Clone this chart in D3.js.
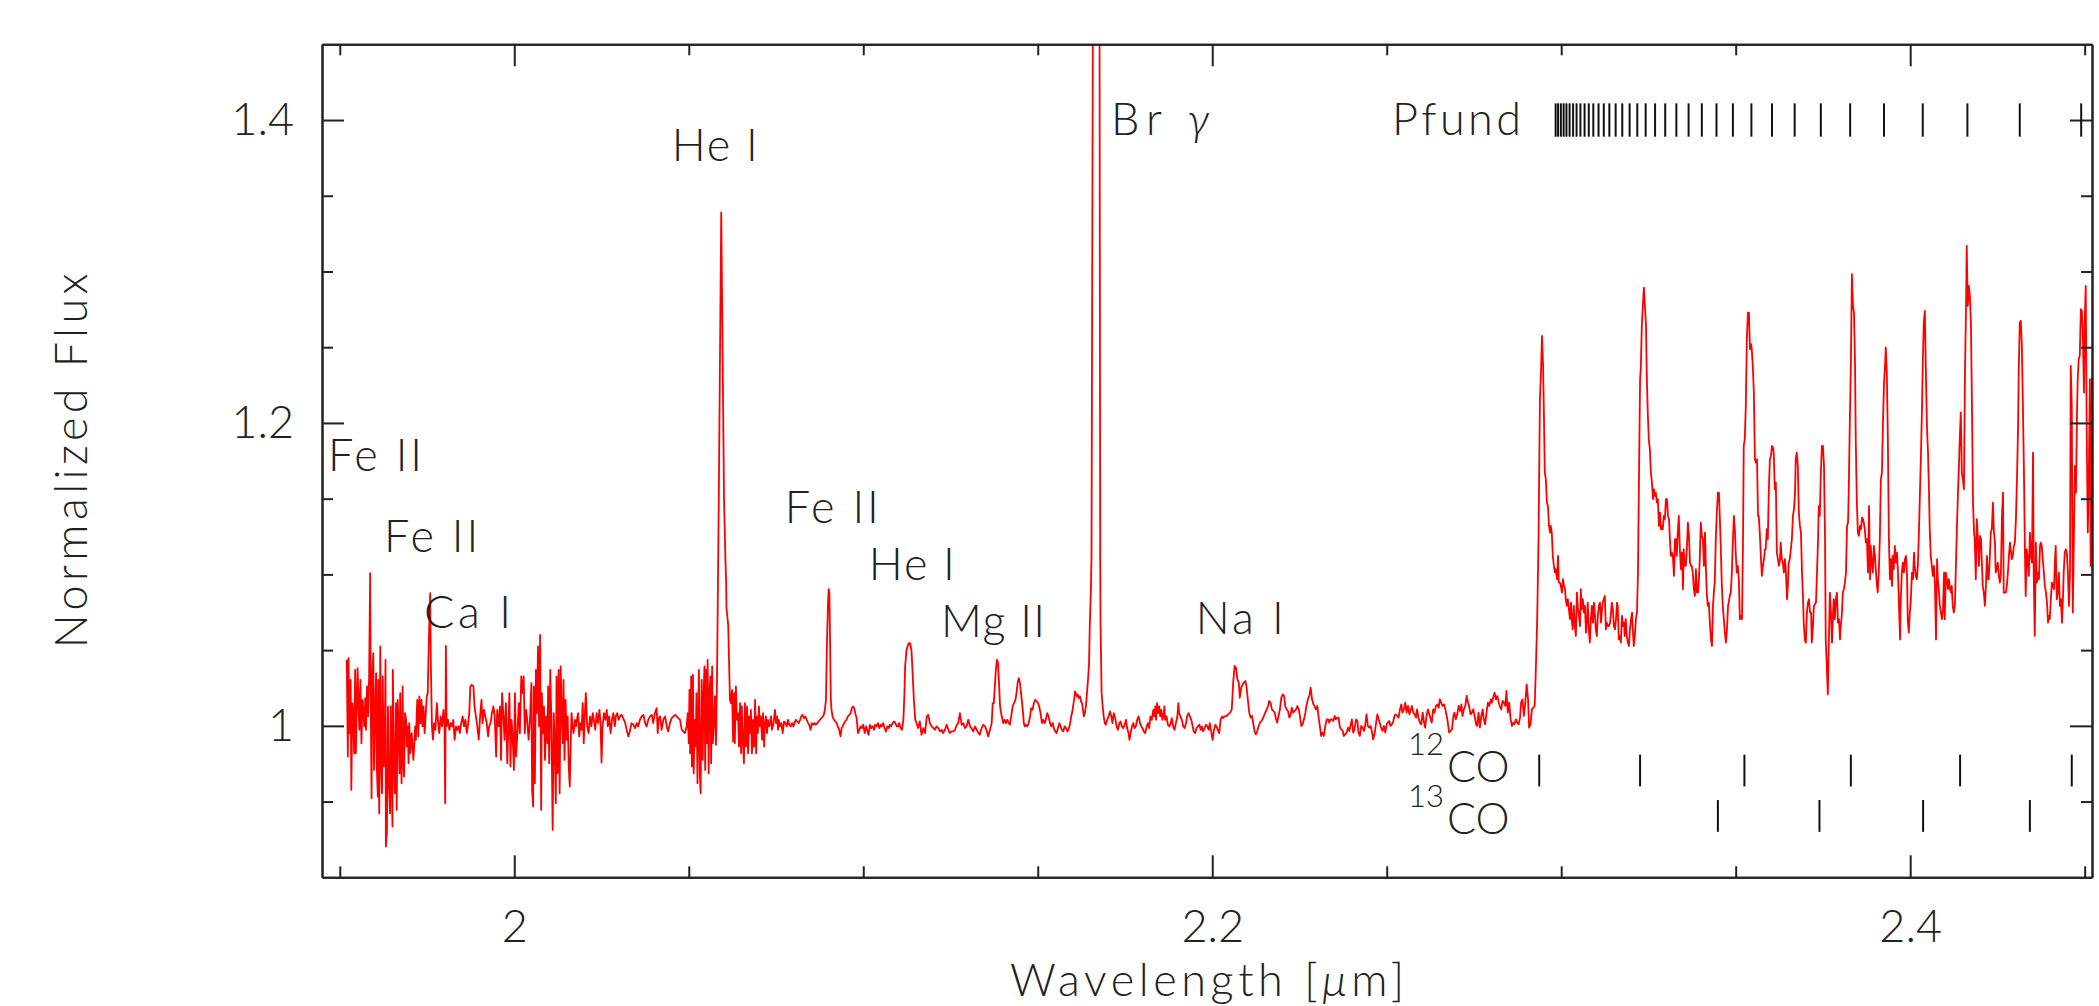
<!DOCTYPE html>
<html>
<head>
<meta charset="utf-8">
<script src="https://cdn.jsdelivr.net/npm/d3@7"></script>
<style>
  html, body { margin: 0; padding: 0; background: #fff; }
  svg { display: block; }
  text { font-family: Lato, Roboto, "Open Sans", sans-serif; font-weight: 300; fill: #222; }
</style>
</head>
<body>
<svg id="chart" width="2099" height="1006"></svg>
<script>
// ---- Spectrum: [wavelength (µm), normalized flux] ----
const specBlue = [[1.9520,1.0436],[1.9523,0.9797],[1.9525,1.0447],[1.9528,0.9952],[1.9531,1.0304],[1.9533,0.9577],[1.9536,1.0150],[1.9539,1.0062],[1.9541,0.9819],[1.9544,1.0370],[1.9546,0.9819],[1.9548,1.0062],[1.9551,1.0381],[1.9554,1.0106],[1.9556,0.9974],[1.9559,1.0304],[1.9562,0.9886],[1.9565,1.0172],[1.9568,1.0084],[1.9570,0.9996],[1.9573,1.0183],[1.9575,0.9974],[1.9578,1.0260],[1.9581,1.0062],[1.9584,1.0326],[1.9587,1.1008],[1.9589,1.0084],[1.9591,0.9522],[1.9593,1.0326],[1.9596,1.0480],[1.9598,0.9709],[1.9601,1.0084],[1.9604,1.0348],[1.9606,0.9731],[1.9609,0.9533],[1.9610,1.0304],[1.9613,0.9423],[1.9616,1.0524],[1.9618,0.9775],[1.9621,0.9555],[1.9623,1.0326],[1.9626,0.9731],[1.9629,0.9908],[1.9631,1.0436],[1.9632,0.9203],[1.9635,0.9291],[1.9638,1.0128],[1.9641,0.9599],[1.9644,0.9423],[1.9646,1.0128],[1.9648,0.9731],[1.9651,0.9335],[1.9652,1.0370],[1.9655,0.9819],[1.9658,0.9555],[1.9661,1.0150],[1.9663,0.9445],[1.9666,1.0172],[1.9669,0.9930],[1.9671,0.9687],[1.9673,1.0216],[1.9675,0.9863],[1.9677,0.9621],[1.9680,1.0260],[1.9682,0.9775],[1.9684,0.9665],[1.9687,1.0084],[1.9690,1.0040],[1.9692,0.9863],[1.9695,0.9996],[1.9697,0.9753],[1.9699,1.0018],[1.9702,0.9819],[1.9706,0.9952],[1.9711,0.9775],[1.9716,0.9996],[1.9718,0.9908],[1.9722,1.0172],[1.9725,0.9930],[1.9728,1.0194],[1.9731,1.0018],[1.9734,1.0172],[1.9737,0.9996],[1.9740,1.0128],[1.9743,0.9952],[1.9746,1.0062],[1.9749,1.0194],[1.9752,1.0216],[1.9755,1.0546],[1.9759,1.0876],[1.9761,1.0392],[1.9764,0.9996],[1.9767,0.9908],[1.9770,1.0018],[1.9774,0.9974],[1.9778,1.0150],[1.9781,1.0040],[1.9785,0.9952],[1.9789,1.0062],[1.9793,0.9996],[1.9797,1.0106],[1.9800,0.9996],[1.9802,0.9489],[1.9804,1.0528],[1.9806,0.9996],[1.9810,1.0040],[1.9814,0.9974],[1.9818,1.0018],[1.9822,0.9996],[1.9825,1.0040],[1.9829,0.9908],[1.9833,0.9996],[1.9837,0.9974],[1.9841,0.9996],[1.9844,0.9952],[1.9848,1.0018],[1.9852,1.0062],[1.9856,0.9996],[1.9860,1.0040],[1.9864,0.9952],[1.9867,0.9996],[1.9871,1.0084],[1.9874,1.0260],[1.9878,1.0271],[1.9883,1.0260],[1.9886,1.0128],[1.9890,1.0062],[1.9894,0.9996],[1.9898,0.9908],[1.9902,1.0062],[1.9906,1.0172],[1.9909,1.0018],[1.9913,1.0106],[1.9917,1.0062],[1.9921,1.0018],[1.9925,0.9930],[1.9928,0.9996],[1.9932,1.0018],[1.9936,1.0084],[1.9940,1.0128],[1.9944,1.0062],[1.9948,0.9797],[1.9951,1.0106],[1.9955,0.9996],[1.9959,1.0128],[1.9962,0.9775],[1.9965,1.0216],[1.9969,1.0062],[1.9972,0.9908],[1.9976,1.0150],[1.9980,0.9753],[1.9983,0.9996],[1.9986,1.0216],[1.9989,0.9731],[1.9992,1.0040],[1.9995,0.9952],[1.9999,0.9709],[2.0002,1.0216],[2.0005,0.9797],[2.0009,0.9952],[2.0013,1.0150],[2.0016,0.9952],[2.0020,1.0326],[2.0024,1.0216],[2.0027,1.0326],[2.0030,0.9952],[2.0034,1.0106],[2.0037,1.0040],[2.0041,0.9908],[2.0045,1.0040],[2.0049,1.0282],[2.0051,0.9577],[2.0054,0.9467],[2.0056,1.0260],[2.0059,0.9621],[2.0062,1.0370],[2.0065,1.0084],[2.0068,1.0524],[2.0071,0.9996],[2.0074,1.0601],[2.0077,0.9445],[2.0079,1.0216],[2.0082,0.9952],[2.0085,1.0128],[2.0088,0.9775],[2.0091,1.0062],[2.0095,0.9886],[2.0097,1.0260],[2.0100,0.9753],[2.0103,1.0370],[2.0106,1.0062],[2.0110,0.9313],[2.0113,1.0084],[2.0116,0.9863],[2.0119,0.9489],[2.0121,1.0326],[2.0124,0.9687],[2.0127,1.0370],[2.0130,0.9555],[2.0133,1.0392],[2.0136,1.0062],[2.0139,0.9886],[2.0141,1.0304],[2.0144,0.9775],[2.0147,1.0172],[2.0150,0.9908],[2.0153,1.0062],[2.0156,0.9731],[2.0159,0.9599],[2.0162,0.9908],[2.0164,1.0084],[2.0167,0.9996],[2.0170,0.9952],[2.0174,1.0040],[2.0177,0.9996],[2.0181,1.0062],[2.0183,1.0084],[2.0186,0.9930],[2.0190,1.0018],[2.0193,0.9974],[2.0196,1.0150],[2.0199,0.9886],[2.0202,1.0062],[2.0205,1.0216],[2.0209,0.9996],[2.0213,0.9952],[2.0217,1.0062],[2.0221,0.9996],[2.0225,1.0084],[2.0228,1.0040],[2.0232,0.9974],[2.0236,1.0084],[2.0240,1.0018],[2.0244,1.0106],[2.0247,1.0018],[2.0250,0.9758],[2.0253,0.9996],[2.0257,1.0084],[2.0261,1.0040],[2.0265,1.0106],[2.0268,0.9996],[2.0272,1.0062],[2.0276,0.9952],[2.0280,1.0040],[2.0284,1.0084],[2.0288,0.9996],[2.0291,1.0062],[2.0295,1.0084],[2.0299,1.0040],[2.0303,1.0062],[2.0307,1.0073],[2.0310,1.0062],[2.0314,1.0040],[2.0318,1.0018],[2.0322,0.9974],[2.0327,0.9930],[2.0331,0.9963]];

const specHeI = [[2.0336,1.0018],[2.0341,1.0007],[2.0346,0.9985],[2.0351,1.0018],[2.0355,0.9996],[2.0360,1.0040],[2.0365,1.0062],[2.0370,1.0073],[2.0375,1.0018],[2.0379,0.9996],[2.0384,1.0040],[2.0389,1.0062],[2.0394,1.0073],[2.0398,1.0018],[2.0403,1.0084],[2.0408,1.0117],[2.0411,0.9952],[2.0414,1.0051],[2.0418,1.0062],[2.0422,0.9974],[2.0427,1.0040],[2.0432,1.0062],[2.0437,0.9996],[2.0441,0.9963],[2.0446,1.0018],[2.0451,1.0051],[2.0456,1.0062],[2.0461,1.0073],[2.0465,1.0062],[2.0470,1.0051],[2.0475,1.0040],[2.0480,0.9974],[2.0484,0.9963],[2.0489,0.9952],[2.0494,0.9996],[2.0497,1.0084],[2.0500,0.9886],[2.0502,1.0238],[2.0504,0.9819],[2.0507,1.0326],[2.0509,0.9731],[2.0512,1.0337],[2.0514,0.9687],[2.0517,1.0040],[2.0520,0.9863],[2.0522,1.0216],[2.0525,0.9621],[2.0527,0.9996],[2.0529,1.0370],[2.0532,0.9665],[2.0534,0.9555],[2.0537,1.0304],[2.0540,0.9775],[2.0542,1.0172],[2.0545,1.0392],[2.0547,0.9709],[2.0549,1.0370],[2.0552,0.9886],[2.0554,1.0436],[2.0557,0.9687],[2.0559,1.0216],[2.0562,1.0326],[2.0564,0.9753],[2.0567,1.0392],[2.0569,0.9886],[2.0572,1.0018],[2.0575,1.0194],[2.0578,0.9875],[2.0581,1.0326],[2.0583,1.0800],[2.0586,1.1500],[2.0593,1.3390],[2.0601,1.1500],[2.0605,1.1100],[2.0607,1.0950],[2.0608,1.0777],[2.0613,1.0667],[2.0618,1.0172],[2.0621,1.0150],[2.0624,1.0238],[2.0627,0.9897],[2.0630,1.0216],[2.0632,0.9886],[2.0635,1.0260],[2.0638,1.0040],[2.0641,1.0084],[2.0644,0.9863],[2.0647,1.0150],[2.0650,0.9819],[2.0652,1.0128],[2.0655,0.9908],[2.0658,0.9753],[2.0661,1.0150],[2.0664,0.9863],[2.0667,1.0128],[2.0670,0.9819],[2.0673,1.0062],[2.0675,0.9952],[2.0678,1.0106],[2.0681,0.9819],[2.0684,1.0040],[2.0687,0.9863],[2.0690,1.0172],[2.0693,0.9819],[2.0695,1.0062],[2.0698,0.9952],[2.0701,1.0128],[2.0704,0.9996],[2.0707,1.0062],[2.0710,0.9908],[2.0713,1.0084],[2.0716,0.9863],[2.0718,0.9996],[2.0721,1.0062],[2.0724,0.9952],[2.0727,1.0040],[2.0730,0.9996],[2.0733,1.0018],[2.0736,1.0062],[2.0738,0.9974],[2.0741,0.9996],[2.0744,1.0040],[2.0747,1.0106],[2.0750,1.0018],[2.0753,1.0062],[2.0756,0.9974],[2.0758,1.0040],[2.0761,0.9996],[2.0765,1.0018],[2.0769,0.9952],[2.0773,1.0029],[2.0777,1.0018],[2.0781,0.9996],[2.0784,1.0040],[2.0788,1.0007],[2.0792,0.9996],[2.0796,1.0018],[2.0800,0.9996],[2.0803,1.0018],[2.0807,1.0040],[2.0811,1.0029],[2.0815,1.0018],[2.0819,1.0040],[2.0822,1.0062],[2.0826,1.0073],[2.0830,1.0051],[2.0834,1.0062],[2.0838,1.0040],[2.0842,1.0018],[2.0845,1.0007],[2.0849,0.9974],[2.0853,1.0018],[2.0857,1.0007],[2.0861,1.0018],[2.0864,1.0007],[2.0868,1.0018],[2.0872,1.0029],[2.0876,1.0040],[2.0880,1.0051],[2.0884,1.0062],[2.0887,1.0073],[2.0890,1.0106],[2.0893,1.0172],[2.0896,1.0546],[2.0899,1.0810],[2.0901,1.0903],[2.0903,1.0876],[2.0905,1.0546],[2.0907,1.0172],[2.0909,1.0106],[2.0912,1.0062],[2.0916,1.0040],[2.0920,1.0029],[2.0924,1.0018],[2.0927,0.9996],[2.0931,0.9974],[2.0935,0.9930],[2.0938,0.9985],[2.0941,0.9996],[2.0945,1.0018],[2.0948,1.0029],[2.0952,1.0040],[2.0956,1.0062],[2.0960,1.0073],[2.0964,1.0084],[2.0967,1.0117],[2.0971,1.0128],[2.0974,1.0117],[2.0977,1.0084],[2.0981,1.0051],[2.0985,0.9952],[2.0989,0.9974],[2.0992,0.9996],[2.0996,0.9985],[2.1000,1.0007],[2.1004,0.9952],[2.1008,0.9996],[2.1011,0.9974],[2.1015,0.9941],[2.1019,1.0007],[2.1023,0.9985],[2.1027,0.9996],[2.1031,0.9974],[2.1034,1.0007],[2.1038,0.9996],[2.1042,1.0018],[2.1046,0.9985],[2.1050,1.0007],[2.1053,0.9996],[2.1057,1.0018],[2.1061,0.9985],[2.1065,0.9963],[2.1069,0.9996],[2.1073,0.9985],[2.1076,1.0007],[2.1080,0.9996],[2.1084,1.0018],[2.1088,1.0029],[2.1092,1.0018],[2.1096,0.9996],[2.1100,0.9996],[2.1103,1.0018],[2.1107,0.9985],[2.1111,0.9974],[2.1115,1.0040],[2.1118,1.0216],[2.1120,1.0392],[2.1124,1.0502],[2.1130,1.0546],[2.1134,1.0546],[2.1138,1.0502],[2.1141,1.0370],[2.1145,1.0172],[2.1149,1.0040],[2.1153,1.0018],[2.1157,0.9985],[2.1162,1.0029]];

const specBrGamma = [[2.1167,0.9941],[2.1172,0.9985],[2.1177,0.9952],[2.1182,1.0062],[2.1186,1.0073],[2.1191,1.0018],[2.1196,0.9996],[2.1201,0.9985],[2.1205,0.9974],[2.1210,0.9996],[2.1215,0.9985],[2.1220,0.9963],[2.1225,0.9974],[2.1229,0.9952],[2.1234,0.9974],[2.1239,1.0007],[2.1244,0.9974],[2.1248,0.9952],[2.1253,0.9963],[2.1258,0.9963],[2.1263,0.9974],[2.1268,1.0007],[2.1272,1.0018],[2.1277,1.0084],[2.1282,1.0007],[2.1287,1.0018],[2.1291,0.9985],[2.1296,0.9996],[2.1301,1.0040],[2.1306,0.9996],[2.1310,0.9985],[2.1315,0.9963],[2.1320,0.9996],[2.1325,0.9974],[2.1330,0.9952],[2.1334,0.9941],[2.1339,0.9985],[2.1344,1.0007],[2.1349,0.9996],[2.1353,0.9974],[2.1358,0.9930],[2.1363,0.9974],[2.1368,1.0018],[2.1371,1.0150],[2.1374,1.0150],[2.1377,1.0260],[2.1380,1.0370],[2.1383,1.0436],[2.1386,1.0414],[2.1389,1.0282],[2.1392,1.0128],[2.1395,1.0084],[2.1397,1.0062],[2.1401,1.0018],[2.1405,1.0040],[2.1409,1.0018],[2.1413,1.0040],[2.1417,1.0018],[2.1420,1.0007],[2.1424,1.0062],[2.1428,1.0128],[2.1432,1.0150],[2.1436,1.0172],[2.1439,1.0216],[2.1443,1.0293],[2.1446,1.0315],[2.1449,1.0282],[2.1452,1.0216],[2.1455,1.0150],[2.1458,1.0084],[2.1460,1.0018],[2.1463,0.9996],[2.1466,1.0007],[2.1470,0.9996],[2.1474,1.0018],[2.1478,1.0062],[2.1481,1.0117],[2.1485,1.0106],[2.1489,1.0150],[2.1493,1.0172],[2.1497,1.0161],[2.1501,1.0150],[2.1504,1.0128],[2.1508,1.0084],[2.1512,1.0018],[2.1516,1.0040],[2.1520,1.0018],[2.1523,1.0040],[2.1527,1.0084],[2.1531,1.0062],[2.1535,1.0018],[2.1539,0.9996],[2.1543,1.0018],[2.1546,0.9985],[2.1550,0.9963],[2.1554,0.9952],[2.1558,0.9985],[2.1562,1.0018],[2.1565,0.9996],[2.1569,0.9974],[2.1573,0.9963],[2.1577,0.9996],[2.1581,0.9985],[2.1585,0.9963],[2.1588,0.9974],[2.1592,1.0007],[2.1596,1.0062],[2.1600,1.0106],[2.1604,1.0172],[2.1607,1.0227],[2.1609,1.0216],[2.1612,1.0194],[2.1615,1.0205],[2.1618,1.0183],[2.1621,1.0194],[2.1624,1.0161],[2.1627,1.0150],[2.1629,1.0117],[2.1632,1.0062],[2.1635,1.0084],[2.1638,1.0128],[2.1641,1.0216],[2.1644,1.0304],[2.1647,1.0414],[2.1649,1.0656],[2.1652,1.0876],[2.1654,1.1100],[2.1658,1.4700],[2.1668,1.7500],[2.1677,1.4700],[2.1679,1.1100],[2.1680,1.0656],[2.1683,1.0216],[2.1686,1.0128],[2.1689,1.0062],[2.1692,1.0018],[2.1695,1.0007],[2.1699,1.0040],[2.1703,1.0062],[2.1707,1.0095],[2.1711,1.0062],[2.1714,1.0018],[2.1718,1.0084],[2.1722,1.0051],[2.1726,0.9996],[2.1730,0.9974],[2.1734,1.0018],[2.1737,1.0029],[2.1741,0.9996],[2.1745,0.9985],[2.1749,1.0007],[2.1753,1.0040],[2.1756,0.9985],[2.1760,0.9952],[2.1763,0.9908],[2.1766,0.9952],[2.1770,0.9996],[2.1774,1.0018],[2.1777,0.9985],[2.1781,0.9996],[2.1785,1.0040],[2.1789,1.0062],[2.1793,1.0018],[2.1797,0.9996],[2.1800,0.9985],[2.1804,0.9963],[2.1808,0.9952],[2.1812,0.9996],[2.1816,1.0018],[2.1819,0.9985],[2.1823,1.0062],[2.1827,1.0040],[2.1831,1.0106],[2.1834,1.0062],[2.1837,1.0128],[2.1839,1.0040],[2.1842,1.0150],[2.1845,1.0084],[2.1848,1.0128],[2.1851,1.0062],[2.1854,1.0106],[2.1857,1.0040],[2.1860,1.0062],[2.1863,1.0128],[2.1865,1.0040],[2.1869,1.0062],[2.1873,1.0007],[2.1877,0.9996],[2.1881,1.0018],[2.1884,1.0051],[2.1888,0.9996],[2.1892,0.9974],[2.1896,1.0018],[2.1900,1.0062],[2.1903,1.0150],[2.1905,1.0084],[2.1909,1.0062],[2.1913,1.0040],[2.1917,0.9996],[2.1921,0.9985],[2.1925,1.0018],[2.1928,1.0062],[2.1932,1.0084],[2.1936,1.0062],[2.1940,1.0040],[2.1944,0.9996],[2.1947,0.9963],[2.1951,0.9952],[2.1955,0.9985],[2.1959,0.9996],[2.1963,1.0007],[2.1967,0.9974],[2.1970,0.9996],[2.1974,0.9963],[2.1978,0.9985],[2.1982,1.0007],[2.1986,0.9996],[2.1990,0.9974],[2.1993,1.0018],[2.1997,0.9963],[2.2001,0.9908],[2.2005,0.9974],[2.2009,1.0007],[2.2012,0.9996],[2.2016,0.9974],[2.2020,0.9952],[2.2024,1.0040],[2.2028,1.0062],[2.2031,1.0051],[2.2035,1.0062]];

const specNaI = [[2.2041,1.0065],[2.2046,1.0076],[2.2051,1.0087],[2.2056,1.0109],[2.2060,1.0285],[2.2064,1.0395],[2.2068,1.0384],[2.2072,1.0307],[2.2076,1.0285],[2.2079,1.0186],[2.2083,1.0252],[2.2087,1.0274],[2.2091,1.0285],[2.2095,1.0296],[2.2098,1.0263],[2.2102,1.0175],[2.2106,1.0087],[2.2110,1.0054],[2.2114,1.0065],[2.2118,1.0010],[2.2121,0.9966],[2.2125,0.9944],[2.2129,0.9966],[2.2133,0.9999],[2.2137,1.0021],[2.2141,1.0032],[2.2144,1.0043],[2.2148,1.0065],[2.2152,1.0087],[2.2156,1.0109],[2.2160,1.0131],[2.2163,1.0164],[2.2167,1.0153],[2.2171,1.0109],[2.2175,1.0098],[2.2179,1.0087],[2.2183,1.0043],[2.2186,1.0021],[2.2190,1.0065],[2.2194,1.0109],[2.2198,1.0186],[2.2202,1.0208],[2.2206,1.0197],[2.2209,1.0131],[2.2213,1.0109],[2.2217,1.0098],[2.2221,1.0054],[2.2225,1.0076],[2.2228,1.0120],[2.2232,1.0087],[2.2236,1.0098],[2.2240,1.0109],[2.2244,1.0131],[2.2248,1.0109],[2.2251,1.0065],[2.2255,0.9999],[2.2259,1.0010],[2.2263,1.0043],[2.2267,1.0087],[2.2270,1.0131],[2.2274,1.0175],[2.2278,1.0197],[2.2282,1.0252],[2.2286,1.0175],[2.2290,1.0142],[2.2293,1.0131],[2.2297,1.0109],[2.2301,1.0131],[2.2305,1.0054],[2.2309,0.9988],[2.2312,0.9933],[2.2316,0.9955],[2.2320,0.9933],[2.2324,0.9999],[2.2328,1.0043],[2.2332,1.0043],[2.2335,1.0021],[2.2339,1.0043],[2.2343,1.0043],[2.2347,1.0032],[2.2351,1.0065],[2.2354,1.0043],[2.2358,1.0054],[2.2362,1.0054],[2.2366,0.9988],[2.2370,0.9977],[2.2374,0.9966],[2.2377,0.9933],[2.2381,0.9944],[2.2385,0.9955],[2.2389,0.9988],[2.2393,0.9966],[2.2396,0.9999],[2.2400,1.0043],[2.2404,0.9955],[2.2408,0.9977],[2.2412,1.0043],[2.2416,1.0032],[2.2419,0.9955],[2.2423,0.9933],[2.2427,0.9999],[2.2431,0.9988],[2.2435,0.9966],[2.2438,0.9999],[2.2442,1.0076],[2.2446,0.9999],[2.2450,0.9988],[2.2454,0.9999],[2.2458,0.9955],[2.2461,0.9911],[2.2465,0.9944],[2.2469,1.0010],[2.2473,1.0076],[2.2477,1.0043],[2.2480,1.0021],[2.2484,0.9988],[2.2488,0.9966],[2.2492,0.9999],[2.2496,0.9955],[2.2500,1.0010],[2.2503,1.0021],[2.2507,1.0032],[2.2511,0.9999],[2.2515,1.0010],[2.2519,1.0032],[2.2522,1.0065],[2.2526,1.0076],[2.2530,1.0065],[2.2534,1.0054],[2.2538,1.0109],[2.2542,1.0142],[2.2545,1.0087],[2.2549,1.0109],[2.2553,1.0153],[2.2557,1.0087],[2.2561,1.0131],[2.2565,1.0076],[2.2568,1.0098],[2.2572,1.0131],[2.2576,1.0087],[2.2580,1.0076],[2.2584,1.0054],[2.2587,1.0109],[2.2591,1.0054],[2.2595,1.0021],[2.2599,1.0010],[2.2603,1.0087],[2.2607,1.0021],[2.2610,0.9988],[2.2614,1.0065],[2.2618,1.0109],[2.2622,1.0076],[2.2626,1.0043],[2.2629,1.0021],[2.2633,1.0109],[2.2637,1.0087],[2.2641,1.0131],[2.2645,1.0142],[2.2649,1.0120],[2.2652,1.0175],[2.2656,1.0153],[2.2660,1.0131],[2.2664,1.0142],[2.2668,1.0109],[2.2672,1.0065],[2.2675,1.0021],[2.2679,0.9955],[2.2683,0.9966],[2.2687,0.9977],[2.2691,1.0065],[2.2694,1.0087],[2.2698,1.0043],[2.2702,1.0076],[2.2706,1.0131],[2.2710,1.0098],[2.2714,1.0142],[2.2717,1.0065],[2.2721,1.0109],[2.2725,1.0131],[2.2729,1.0197],[2.2733,1.0153],[2.2736,1.0131],[2.2740,1.0076],[2.2744,1.0087],[2.2748,1.0109],[2.2752,1.0065],[2.2756,1.0010],[2.2759,0.9999],[2.2763,1.0087],[2.2767,0.9988],[2.2771,1.0065],[2.2775,1.0109],[2.2778,1.0043],[2.2782,1.0010],[2.2786,1.0087],[2.2790,1.0153],[2.2794,1.0131],[2.2798,1.0175],[2.2801,1.0153],[2.2805,1.0186],[2.2809,1.0219],[2.2813,1.0175],[2.2817,1.0197],[2.2821,1.0153],[2.2824,1.0131],[2.2828,1.0109],[2.2832,1.0164],[2.2836,1.0153],[2.2840,1.0131],[2.2843,1.0230],[2.2847,1.0087],[2.2851,1.0153],[2.2855,1.0043],[2.2859,0.9999],[2.2863,1.0021],[2.2866,1.0010],[2.2870,1.0043],[2.2874,1.0021],[2.2878,1.0010],[2.2882,1.0054],[2.2885,1.0153],[2.2889,1.0175],[2.2893,1.0065],[2.2897,1.0153],[2.2901,1.0274],[2.2905,1.0175],[2.2908,0.9988],[2.2912,1.0010],[2.2916,1.0109],[2.2920,1.0120],[2.2924,1.0131]];

const specCO1 = [[2.2927,1.0351],[2.2931,1.0681],[2.2935,1.1232],[2.2939,1.2156],[2.2942,1.2333],[2.2945,1.2575],[2.2948,1.2377],[2.2950,1.2113],[2.2953,1.1672],[2.2956,1.1628],[2.2959,1.1474],[2.2962,1.1452],[2.2965,1.1320],[2.2968,1.1276],[2.2970,1.1320],[2.2973,1.1276],[2.2976,1.1122],[2.2979,1.1056],[2.2982,1.1012],[2.2985,1.1034],[2.2988,1.0968],[2.2991,1.1122],[2.2993,1.0946],[2.2996,1.0946],[2.2999,1.0924],[2.3002,1.0880],[2.3005,1.0968],[2.3008,1.0924],[2.3011,1.0902],[2.3013,1.0836],[2.3016,1.0792],[2.3019,1.0836],[2.3022,1.0770],[2.3025,1.0704],[2.3028,1.0814],[2.3031,1.0681],[2.3033,1.0637],[2.3036,1.0792],[2.3039,1.0659],[2.3042,1.0593],[2.3045,1.0880],[2.3048,1.0770],[2.3051,1.0726],[2.3054,1.0659],[2.3056,1.0902],[2.3059,1.0770],[2.3062,1.0836],[2.3065,1.0748],[2.3068,1.0792],[2.3071,1.0615],[2.3074,1.0704],[2.3076,1.0814],[2.3079,1.0637],[2.3082,1.0549],[2.3085,1.0704],[2.3088,1.0792],[2.3091,1.0681],[2.3094,1.0814],[2.3097,1.0726],[2.3099,1.0637],[2.3102,1.0593],[2.3105,1.0726],[2.3108,1.0792],[2.3111,1.0814],[2.3114,1.0681],[2.3117,1.0770],[2.3119,1.0814],[2.3122,1.0836],[2.3125,1.0858],[2.3128,1.0637],[2.3131,1.0681],[2.3134,1.0659],[2.3137,1.0659],[2.3140,1.0681],[2.3142,1.0726],[2.3145,1.0814],[2.3148,1.0770],[2.3151,1.0659],[2.3154,1.0637],[2.3157,1.0704],[2.3160,1.0814],[2.3162,1.0792],[2.3165,1.0571],[2.3168,1.0593],[2.3171,1.0549],[2.3174,1.0726],[2.3177,1.0659],[2.3180,1.0681],[2.3182,1.0593],[2.3185,1.0704],[2.3188,1.0593],[2.3191,1.0549],[2.3194,1.0527],[2.3197,1.0637],[2.3200,1.0704],[2.3203,1.0748],[2.3205,1.0637],[2.3208,1.0527],[2.3211,1.0593],[2.3214,1.0704],[2.3217,1.0748],[2.3220,1.1012],[2.3223,1.1672],[2.3226,1.2289],[2.3228,1.2355],[2.3231,1.2641],[2.3234,1.2773],[2.3237,1.2894],[2.3240,1.2773],[2.3243,1.2641],[2.3245,1.2333],[2.3248,1.2069],[2.3251,1.1892],[2.3254,1.1826],[2.3257,1.1672],[2.3260,1.1606],[2.3263,1.1496],[2.3266,1.1562],[2.3268,1.1518],[2.3271,1.1540],[2.3274,1.1474],[2.3277,1.1496],[2.3280,1.1320],[2.3283,1.1408],[2.3286,1.1298],[2.3289,1.1320],[2.3291,1.1298],[2.3294,1.1386],[2.3297,1.1364],[2.3300,1.1496],[2.3303,1.1496],[2.3306,1.1386],[2.3309,1.1364],[2.3311,1.1254],[2.3314,1.1122],[2.3317,1.1144],[2.3320,1.1122],[2.3323,1.0990],[2.3326,1.1232],[2.3329,1.1232],[2.3331,1.1122],[2.3334,1.1276],[2.3337,1.1386],[2.3340,1.1166],[2.3343,1.1034],[2.3346,1.1144],[2.3349,1.0902],[2.3351,1.1166],[2.3354,1.1056],[2.3357,1.1056],[2.3360,1.1166],[2.3363,1.1342],[2.3366,1.1254],[2.3369,1.1078],[2.3372,1.1056],[2.3374,1.1056],[2.3377,1.1012],[2.3380,1.0902],[2.3383,1.0858],[2.3386,1.1034],[2.3389,1.0880],[2.3392,1.0880],[2.3395,1.0990],[2.3397,1.1100],[2.3400,1.1342],[2.3403,1.1254],[2.3406,1.1232],[2.3409,1.1056],[2.3412,1.1276],[2.3415,1.1012],[2.3417,1.0880],[2.3420,1.0792],[2.3423,1.0814],[2.3426,1.0681],[2.3429,1.0571],[2.3432,1.0527],[2.3435,1.0792],[2.3438,1.0902],[2.3440,1.0946],[2.3443,1.1232],[2.3446,1.1408],[2.3449,1.1540],[2.3452,1.1540],[2.3455,1.1342],[2.3458,1.1122],[2.3460,1.0946],[2.3463,1.0792],[2.3466,1.0704],[2.3469,1.0615],[2.3472,1.0549],[2.3475,1.0637],[2.3478,1.0792],[2.3480,1.0814],[2.3483,1.0858],[2.3486,1.0880],[2.3489,1.1012],[2.3492,1.1232],[2.3495,1.1386],[2.3498,1.1276],[2.3500,1.1144],[2.3503,1.1012],[2.3506,1.1056],[2.3509,1.0968],[2.3512,1.0704],[2.3515,1.0726],[2.3518,1.0704],[2.3521,1.1232],[2.3523,1.1848],[2.3526,1.1892],[2.3529,1.2113],[2.3532,1.2553],[2.3535,1.2729],[2.3538,1.2729],[2.3541,1.2487],[2.3544,1.2520],[2.3546,1.2487],[2.3549,1.2377],[2.3552,1.2201],[2.3555,1.1760],[2.3558,1.1738],[2.3561,1.1760],[2.3564,1.1386],[2.3566,1.1386],[2.3569,1.1276],[2.3572,1.1122],[2.3575,1.0990],[2.3578,1.1056],[2.3581,1.1100],[2.3584,1.1166],[2.3586,1.1166],[2.3589,1.1298],[2.3592,1.1232],[2.3595,1.1562],[2.3598,1.1760],[2.3601,1.1782],[2.3604,1.1848],[2.3607,1.1837],[2.3609,1.1804],[2.3612,1.1562],[2.3615,1.1606],[2.3618,1.1144],[2.3621,1.1100],[2.3624,1.1056],[2.3627,1.1100],[2.3629,1.1210],[2.3632,1.1100],[2.3635,1.1078],[2.3638,1.1012],[2.3641,1.1100],[2.3644,1.1012],[2.3647,1.0836],[2.3650,1.0946],[2.3652,1.1078],[2.3655,1.1100],[2.3658,1.1166],[2.3661,1.1232],[2.3664,1.1386],[2.3667,1.1430],[2.3670,1.1540],[2.3672,1.1760],[2.3675,1.1804],[2.3678,1.1716],[2.3681,1.1408],[2.3684,1.1320]];

const specCO2 = [[2.3687,1.1276],[2.3690,1.1012],[2.3693,1.0836],[2.3695,1.0681],[2.3698,1.0571],[2.3701,1.0549],[2.3704,1.0748],[2.3707,1.0814],[2.3710,1.0836],[2.3713,1.0748],[2.3716,1.0748],[2.3718,1.0549],[2.3721,1.0637],[2.3724,1.0792],[2.3727,1.0803],[2.3730,1.0814],[2.3733,1.1012],[2.3736,1.1232],[2.3738,1.1452],[2.3741,1.1386],[2.3744,1.1672],[2.3747,1.1848],[2.3750,1.1848],[2.3753,1.1716],[2.3756,1.1232],[2.3758,1.0571],[2.3761,1.0395],[2.3764,1.0208],[2.3767,1.0571],[2.3770,1.0880],[2.3773,1.0748],[2.3776,1.0549],[2.3779,1.0748],[2.3781,1.0836],[2.3784,1.0704],[2.3787,1.0836],[2.3790,1.0880],[2.3793,1.0681],[2.3796,1.0704],[2.3799,1.0571],[2.3801,1.0659],[2.3804,1.0726],[2.3807,1.0880],[2.3810,1.0902],[2.3813,1.0946],[2.3816,1.1012],[2.3819,1.1320],[2.3822,1.1342],[2.3824,1.1562],[2.3827,1.2003],[2.3830,1.2377],[2.3833,1.2982],[2.3836,1.2773],[2.3839,1.2729],[2.3842,1.2377],[2.3844,1.1892],[2.3847,1.1496],[2.3850,1.1276],[2.3853,1.1254],[2.3856,1.1320],[2.3859,1.1298],[2.3862,1.1375],[2.3865,1.1364],[2.3867,1.1342],[2.3870,1.1298],[2.3873,1.1210],[2.3876,1.1232],[2.3879,1.1012],[2.3882,1.1452],[2.3885,1.0968],[2.3887,1.1188],[2.3890,1.1078],[2.3893,1.1012],[2.3896,1.1188],[2.3899,1.1122],[2.3902,1.1012],[2.3905,1.0924],[2.3907,1.0880],[2.3910,1.1012],[2.3913,1.1232],[2.3916,1.1628],[2.3919,1.1672],[2.3922,1.2003],[2.3925,1.2267],[2.3928,1.2377],[2.3930,1.2498],[2.3933,1.2333],[2.3936,1.1892],[2.3939,1.1232],[2.3942,1.0968],[2.3945,1.1100],[2.3948,1.0924],[2.3950,1.1122],[2.3953,1.1034],[2.3956,1.1188],[2.3959,1.1078],[2.3962,1.1144],[2.3965,1.1012],[2.3968,1.0792],[2.3971,1.0571],[2.3973,1.0836],[2.3976,1.1012],[2.3979,1.1078],[2.3982,1.1012],[2.3985,1.1100],[2.3988,1.1122],[2.3991,1.0990],[2.3993,1.0704],[2.3996,1.0615],[2.3999,1.0748],[2.4002,1.0836],[2.4005,1.1012],[2.4008,1.0968],[2.4011,1.1144],[2.4013,1.1056],[2.4016,1.0990],[2.4019,1.0968],[2.4022,1.1056],[2.4025,1.1276],[2.4028,1.1540],[2.4031,1.1804],[2.4034,1.2113],[2.4036,1.2377],[2.4039,1.2663],[2.4042,1.2740],[2.4045,1.2333],[2.4048,1.1980],[2.4051,1.1804],[2.4054,1.1540],[2.4056,1.1298],[2.4059,1.1122],[2.4062,1.1056],[2.4065,1.0990],[2.4068,1.1056],[2.4071,1.0924],[2.4074,1.0571],[2.4077,1.1100],[2.4079,1.0968],[2.4082,1.0902],[2.4085,1.0792],[2.4088,1.0748],[2.4091,1.0704],[2.4094,1.0770],[2.4097,1.1012],[2.4099,1.0704],[2.4102,1.1012],[2.4105,1.0968],[2.4108,1.0902],[2.4111,1.0968],[2.4114,1.0902],[2.4117,1.0880],[2.4119,1.0924],[2.4122,1.0792],[2.4125,1.0748],[2.4128,1.0792],[2.4131,1.1056],[2.4134,1.1320],[2.4137,1.1540],[2.4139,1.1672],[2.4142,1.1892],[2.4145,1.2069],[2.4148,1.1672],[2.4151,1.1628],[2.4154,1.1562],[2.4157,1.2333],[2.4160,1.2762],[2.4162,1.3169],[2.4165,1.2773],[2.4168,1.2905],[2.4171,1.2839],[2.4174,1.2663],[2.4177,1.2113],[2.4180,1.1474],[2.4183,1.1276],[2.4185,1.1232],[2.4188,1.0968],[2.4191,1.1364],[2.4194,1.1232],[2.4197,1.1056],[2.4200,1.1254],[2.4203,1.1232],[2.4205,1.1100],[2.4208,1.0924],[2.4211,1.0880],[2.4214,1.0792],[2.4217,1.0924],[2.4220,1.1122],[2.4223,1.0968],[2.4225,1.0968],[2.4228,1.1100],[2.4231,1.1276],[2.4234,1.1298],[2.4237,1.1474],[2.4240,1.1276],[2.4243,1.1210],[2.4245,1.1012],[2.4248,1.1034],[2.4251,1.1078],[2.4254,1.0990],[2.4257,1.0946],[2.4260,1.1012],[2.4263,1.1386],[2.4266,1.1540],[2.4268,1.0880],[2.4271,1.0880],[2.4274,1.0880],[2.4277,1.0924],[2.4280,1.1012],[2.4283,1.1122],[2.4286,1.1210],[2.4288,1.1166],[2.4291,1.1100],[2.4294,1.1122],[2.4297,1.1188],[2.4300,1.1210],[2.4303,1.1364],[2.4306,1.1628],[2.4309,1.1958],[2.4311,1.2333],[2.4314,1.2663],[2.4317,1.2674],[2.4320,1.2509],[2.4323,1.2113],[2.4326,1.1672],[2.4329,1.1122],[2.4331,1.0858],[2.4334,1.1166],[2.4337,1.1100],[2.4340,1.0990],[2.4343,1.1276],[2.4346,1.1122],[2.4349,1.1078],[2.4352,1.1804],[2.4354,1.1012],[2.4357,1.0594],[2.4360,1.1210],[2.4363,1.0946],[2.4366,1.1012],[2.4369,1.0968],[2.4372,1.1188],[2.4374,1.1210],[2.4377,1.1188],[2.4380,1.1100],[2.4383,1.1012],[2.4386,1.0924],[2.4389,1.0880],[2.4392,1.0814],[2.4395,1.0681],[2.4397,1.0726],[2.4400,1.0704],[2.4403,1.0836],[2.4406,1.0946],[2.4409,1.0924],[2.4412,1.0902],[2.4415,1.1100],[2.4417,1.1188],[2.4420,1.0836],[2.4423,1.0880],[2.4426,1.1012],[2.4429,1.0792],[2.4432,1.0836],[2.4435,1.0681],[2.4437,1.0792],[2.4440,1.1012],[2.4443,1.1144],[2.4446,1.1166],[2.4449,1.1144],[2.4452,1.1012],[2.4455,1.0792],[2.4458,1.1012],[2.4460,1.2377],[2.4463,1.2113],[2.4466,1.0748],[2.4469,1.1232],[2.4472,1.1716],[2.4475,1.1540],[2.4478,1.2069],[2.4480,1.2289],[2.4483,1.2421],[2.4486,1.2443],[2.4489,1.2751],[2.4492,1.2740],[2.4495,1.2553],[2.4498,1.2201],[2.4500,1.2663],[2.4503,1.2905],[2.4506,1.1892],[2.4509,1.1276],[2.4512,1.1672],[2.4515,1.2289],[2.4517,1.1056],[2.4521,1.2300]];

// ---- Axis ticks ----
const xMajorTicks = [2.0, 2.2, 2.4];
const xMinorTicks = [1.95, 2.05, 2.1, 2.15, 2.25, 2.3, 2.35, 2.45];
const yMajorTicks = [1.0, 1.2, 1.4];
const yMinorTicks = [0.95, 1.05, 1.1, 1.15, 1.25, 1.3, 1.35];

// ---- Line identifications ----
const lineNames = ["Fe II", "Fe II", "Ca I", "He I", "Fe II", "He I", "Mg II", "Br", "Na I", "Pfund"];
const lineLabelWave = [1.9466, 1.9627, 1.9741, 2.0451, 2.0775, 2.1016, 2.1223, 2.1710, 2.1953, 2.2515];
const lineLabelFlux = [1.1681, 1.1146, 1.0644, 1.3729, 1.1342, 1.0965, 1.0584, 1.3900, 1.0604, 1.3900];

// Pfund series (n = 19 ... 55) and CO band heads, µm
const pfundWave = [2.4490, 2.4314, 2.4164, 2.4036, 2.3925, 2.3828, 2.3744, 2.3669, 2.3604, 2.3545, 2.3492, 2.3445, 2.3403, 2.3365, 2.3330, 2.3298, 2.3269, 2.3242, 2.3218, 2.3196, 2.3175, 2.3156, 2.3138, 2.3122, 2.3107, 2.3092, 2.3079, 2.3067, 2.3055, 2.3044, 2.3034, 2.3024, 2.3015, 2.3007, 2.2999, 2.2991, 2.2984];
const co12Wave = [2.2937, 2.3226, 2.3525, 2.3830, 2.4143, 2.4463];
const co13Wave = [2.3449, 2.3740, 2.4037, 2.4343];
const coIsotopes = ["12", "13"];
const coLabelFlux = [0.9627, 0.9284];

// ---- Drawing ----
const frame = { left: 322, right: 2092, top: 44.3, bottom: 877.3 };
const x = d3.scaleLinear().domain([1.9449, 2.4521]).range([frame.left, frame.right]);
const y = d3.scaleLinear().domain([0.9, 1.45]).range([frame.bottom, frame.top]);

const FONT = 45;
const ink = "#222";
const svg = d3.select("#chart");

svg.append("defs").append("clipPath").attr("id", "plotArea")
  .append("rect")
  .attr("x", frame.left).attr("y", frame.top)
  .attr("width", frame.right - frame.left).attr("height", frame.bottom - frame.top);

// spectrum
const spectrum = [].concat(specBlue, specHeI, specBrGamma, specNaI, specCO1, specCO2);
svg.append("path")
  .datum(spectrum)
  .attr("clip-path", "url(#plotArea)")
  .attr("fill", "none")
  .attr("stroke", "#ff0000")
  .attr("stroke-width", 1.8)
  .attr("stroke-linejoin", "round")
  .attr("d", d3.line().x(d => x(d[0])).y(d => y(d[1])));

// axes: every side carries inward ticks
const fmt = d3.format("~g");
function addAxis(axis, tx, ty, labelled) {
  const g = svg.append("g").attr("transform", `translate(${tx},${ty})`)
    .attr("color", ink).call(axis);
  g.selectAll("path.domain").attr("stroke-width", 2);
  g.selectAll(".tick line").attr("stroke-width", 2);
  g.attr("font-size", FONT).attr("font-family", null);
  if (!labelled) g.selectAll(".tick text").remove();
  return g;
}
addAxis(d3.axisBottom(x).tickValues(xMajorTicks).tickSize(-22).tickSizeOuter(0).tickPadding(33).tickFormat(fmt), 0, frame.bottom, true);
addAxis(d3.axisBottom(x).tickValues(xMinorTicks).tickSize(-11).tickSizeOuter(0).tickFormat(""), 0, frame.bottom, false);
addAxis(d3.axisTop(x).tickValues(xMajorTicks).tickSize(-22).tickSizeOuter(0).tickFormat(""), 0, frame.top, false);
addAxis(d3.axisTop(x).tickValues(xMinorTicks).tickSize(-11).tickSizeOuter(0).tickFormat(""), 0, frame.top, false);
addAxis(d3.axisLeft(y).tickValues(yMajorTicks).tickSize(-22).tickSizeOuter(0).tickPadding(28).tickFormat(fmt), frame.left, 0, true);
addAxis(d3.axisLeft(y).tickValues(yMinorTicks).tickSize(-11).tickSizeOuter(0).tickFormat(""), frame.left, 0, false);
addAxis(d3.axisRight(y).tickValues(yMajorTicks).tickSize(-22).tickSizeOuter(0).tickFormat(""), frame.right, 0, false);
addAxis(d3.axisRight(y).tickValues(yMinorTicks).tickSize(-11).tickSizeOuter(0).tickFormat(""), frame.right, 0, false);
svg.selectAll(".tick text").style("fill", ink);

// axis titles
const xTitle = svg.append("text")
  .attr("x", (frame.left + frame.right) / 2).attr("y", 996)
  .attr("text-anchor", "middle").attr("font-size", FONT)
  .attr("textLength", 394).attr("lengthAdjust", "spacing");
xTitle.append("tspan").text("Wavelength [");
xTitle.append("tspan").attr("font-style", "italic").text("μ");
xTitle.append("tspan").text("m]");

svg.append("text")
  .attr("transform", `translate(87,${(frame.top + frame.bottom) / 2}) rotate(-90)`)
  .attr("text-anchor", "middle").attr("font-size", FONT)
  .attr("textLength", 375).attr("lengthAdjust", "spacing")
  .text("Normalized Flux");

// line identifications
const labelWidths = { "Fe II": 94, "Ca I": 87, "He I": 86, "Mg II": 104, "Br": 98, "Na I": 88, "Pfund": 129 };
lineNames.forEach((name, i) => {
  const t = svg.append("text")
    .attr("x", x(lineLabelWave[i])).attr("y", y(lineLabelFlux[i]))
    .attr("font-size", FONT)
    .attr("textLength", labelWidths[name]).attr("lengthAdjust", "spacing");
  if (name === "Br") {
    t.append("tspan").text("Br ");
    t.append("tspan").attr("font-style", "italic").text("γ");
  } else {
    t.text(name);
  }
});

// marker ticks for Pfund lines and CO band heads
function markers(waves, lo, hi) {
  svg.append("g").selectAll("line").data(waves).join("line")
    .attr("x1", d => x(d)).attr("x2", d => x(d))
    .attr("y1", y(lo)).attr("y2", y(hi))
    .attr("stroke", "#111").attr("stroke-width", 2);
}
markers(pfundWave, 1.389, 1.411);
markers(co12Wave, 0.960, 0.981);
markers(co13Wave, 0.930, 0.951);

// isotopologue labels: superscript mass number followed by "CO"
coIsotopes.forEach((iso, i) => {
  const base = y(coLabelFlux[i]);
  svg.append("text").attr("x", x(2.2561)).attr("y", base - 27)
    .attr("font-size", 31).text(iso);
  svg.append("text").attr("x", x(2.2561) + 39).attr("y", base)
    .attr("font-size", 43).text("CO");
});
</script>
</body>
</html>
